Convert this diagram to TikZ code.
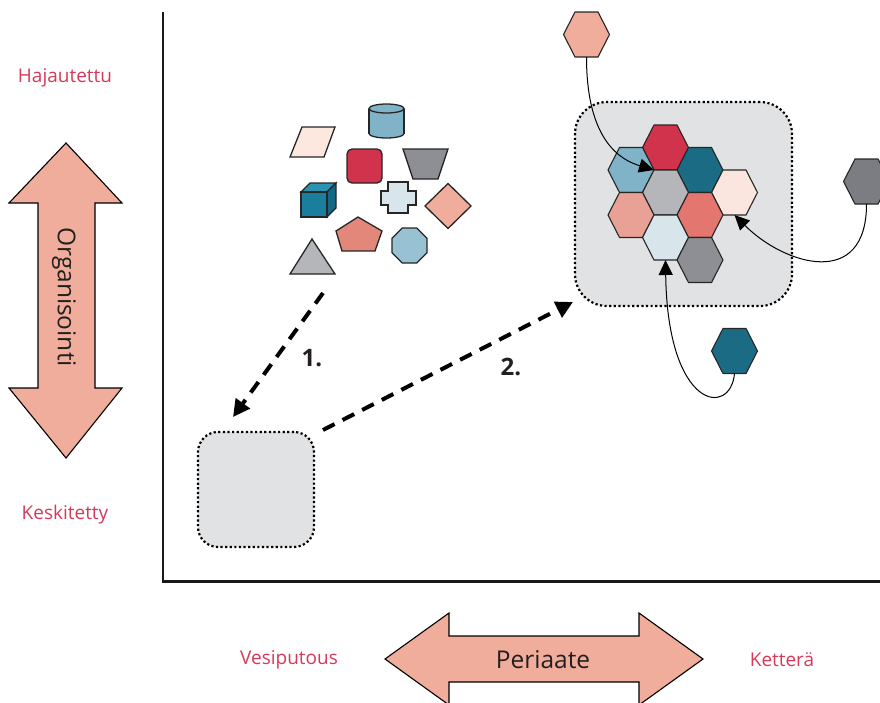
\documentclass[tikz,border=0pt]{standalone}
\usepackage{fontspec}
\setmainfont{Open Sans}
\usetikzlibrary{shapes.geometric,arrows.meta}
\definecolor{labred}{HTML}{D6395A}
\definecolor{txt}{HTML}{231F20}
\definecolor{arrfill}{HTML}{F0AD9B}
\definecolor{boxgray}{HTML}{E1E2E4}
\definecolor{cRed}{HTML}{D2334C}
\definecolor{cLBlue}{HTML}{80B3C8}
\definecolor{cTeal}{HTML}{1B6B85}
\definecolor{cLGray}{HTML}{B5B6B9}
\definecolor{cPeach}{HTML}{FBE6DF}
\definecolor{cSalmon}{HTML}{E9A095}
\definecolor{cCoral}{HTML}{E3766E}
\definecolor{cPBlue}{HTML}{D8E5EB}
\definecolor{cGray}{HTML}{8E8F94}
\definecolor{cDGray}{HTML}{7C7D82}
\definecolor{cTopSal}{HTML}{F0AD9B}
\definecolor{cPara}{HTML}{FDE8E0}
\definecolor{cPent}{HTML}{E3877B}
\definecolor{cOct}{HTML}{98C2D3}
\definecolor{cCubeF}{HTML}{1A7E9C}
\definecolor{cCubeT}{HTML}{2A93B1}
\definecolor{cCubeS}{HTML}{136983}
\begin{document}
\begin{tikzpicture}[x=1pt,y=-1pt,
  lab/.style={text=labred,font=\fontsize{19}{22}\selectfont,inner sep=0},
  bigtxt/.style={text=txt,font=\fontsize{24.5}{28}\selectfont,inner sep=0},
  numlab/.style={text=txt,font=\bfseries\fontsize{24}{28}\selectfont,inner sep=0},
  axisline/.style={line width=2.4pt,draw=black!90},
  bigarrow/.style={fill=arrfill,draw=black,line width=1.1pt,line join=miter},
  dotbox/.style={draw=black,fill=boxgray,line width=2.2pt,dash pattern=on 2.2pt off 2.4pt,inner sep=0},
  dasharrow/.style={line width=4pt,dash pattern=on 13pt off 9pt,-{Triangle[length=17pt,width=17pt]}},
  hexn/.style={regular polygon,regular polygon sides=6,minimum size=46pt,inner sep=0,outer sep=0,draw=black!85,line width=1.1pt,yscale=1.1295},
  curvearrow/.style={line width=1pt,-{Triangle[length=15pt,width=14pt]}},
  shp/.style={draw=black!85,line width=1.3pt,line join=miter}
]
\useasboundingbox (0,0) rectangle (880,702);

% axes
\draw[axisline] (163,12) -- (163,581.5) -- (880,581.5);

% side labels
\node[lab] (haj) at (65,78) {Hajautettu};
\node[lab] (kes) at (65,515) {Keskitetty};
\node[lab] (ves) at (289,660) {Vesiputous};
\node[lab] (ket) at (782,660) {Ketterä};

% vertical big arrow
\draw[bigarrow] (66,143) -- (122,203) -- (95,203) -- (95,388) -- (122,388) -- (66,458)
  -- (9,388) -- (38,388) -- (38,203) -- (9,203) -- cycle;
\node[bigtxt,rotate=-90] (org) at (64,297) {Organisointi};

% horizontal big arrow
\draw[bigarrow] (385,659) -- (449,613) -- (449,636) -- (639,636) -- (639,613) -- (703,659)
  -- (639,705) -- (639,682) -- (449,682) -- (449,705) -- cycle;
\node[bigtxt] (per) at (543,660) {Periaate};

% cluster of shapes
% parallelogram
\draw[shp,fill=cPara] (290,157) -- (302,127) -- (335,127) -- (324,157) -- cycle;
% cylinder
\draw[shp,fill=cLBlue] (386.5,133.5) ellipse [x radius=17.5,y radius=4.5];
\fill[cLBlue] (369,108.5) rectangle (404,133.5);
\draw[shp] (369,108.5) -- (369,133.5) (404,108.5) -- (404,133.5);
\draw[shp,fill=cLBlue] (386.5,108.5) ellipse [x radius=17.5,y radius=4.5];
% red rounded square
\draw[shp,fill=cRed,rounded corners=5pt] (347,149) rectangle (382,183);
% trapezoid
\draw[shp,fill=cGray] (403,149) -- (448,149) -- (438,179) -- (413,179) -- cycle;
% cube
\draw[shp,fill=cCubeT] (301,192) -- (310,183) -- (336,183) -- (327,192) -- cycle;
\draw[shp,fill=cCubeS] (327,192) -- (336,183) -- (336,208) -- (327,217) -- cycle;
\draw[shp,fill=cCubeF] (301,192) rectangle (327,217);
% cross
\draw[shp,fill=cPBlue] (388,182) -- (408,182) -- (408,191) -- (416,191) -- (416,205) -- (408,205)
  -- (408,213) -- (388,213) -- (388,205) -- (381,205) -- (381,191) -- (388,191) -- cycle;
% diamond
\draw[shp,fill=arrfill] (448,183.5) -- (471,206) -- (448,228.5) -- (425,206) -- cycle;
% pentagon
\draw[shp,fill=cPent] (358,217) -- (382,231) -- (375,251) -- (342,251) -- (336,231) -- cycle;
% octagon
\draw[shp,fill=cOct] (409.5,245.5) +(22.5:18.94) -- +(67.5:18.94) -- +(112.5:18.94) -- +(157.5:18.94)
  -- +(202.5:18.94) -- +(247.5:18.94) -- +(292.5:18.94) -- +(337.5:18.94) -- cycle;
% triangle
\draw[shp,fill=cLGray] (312,239) -- (335,274) -- (290,274) -- cycle;

% boxes
\node[dotbox,rounded corners=20pt,minimum width=116pt,minimum height=115pt] (boxL) at (256,489.5) {};
\node[dotbox,rounded corners=32pt,minimum width=217pt,minimum height=204pt] (boxR) at (683.5,204) {};

% dashed arrows
\coordinate (c1s) at (323,293);
\coordinate (c1e) at (233,417);
\coordinate (c2s) at (323,430);
\coordinate (c2e) at (573,302);
\draw[dasharrow] (c1s) -- (c1e);
\draw[dasharrow] (c2s) -- (c2e);
\node[numlab] (n1) at (312,358) {1.};
\node[numlab] (n2) at (511,367) {2.};

% hexagon grid
\node[hexn,fill=cRed] (hRed) at (665.5,147.5) {};
\node[hexn,fill=cLBlue] (hLB) at (631,170) {};
\node[hexn,fill=cTeal] (hTeal) at (700,170) {};
\node[hexn,fill=cLGray] (hLG) at (665.5,192.5) {};
\node[hexn,fill=cPeach] (hPeach) at (734.5,192.5) {};
\node[hexn,fill=cSalmon] (hSal) at (631,215) {};
\node[hexn,fill=cCoral] (hCoral) at (700,215) {};
\node[hexn,fill=cPBlue] (hPB) at (665.5,237.5) {};
\node[hexn,fill=cGray] (hGray) at (700,260) {};

% outside hexagons
\node[hexn,fill=cTopSal] (oTop) at (586.5,34.5) {};
\node[hexn,fill=cDGray] (oRight) at (866.5,181.5) {};
\node[hexn,fill=cTeal] (oBot) at (734.5,351) {};

% curved arrows
\draw[curvearrow] (oTop.south) .. controls +(0,60) and +(-50,-15) .. (hRed.corner 4);
\draw[curvearrow] (oRight.south) .. controls +(0,86) and +(50,50) .. (hPeach.south);
\draw[curvearrow] (oBot.south) .. controls +(-4,44) and +(2,150) .. (hPB.south);
\end{tikzpicture}
\end{document}
